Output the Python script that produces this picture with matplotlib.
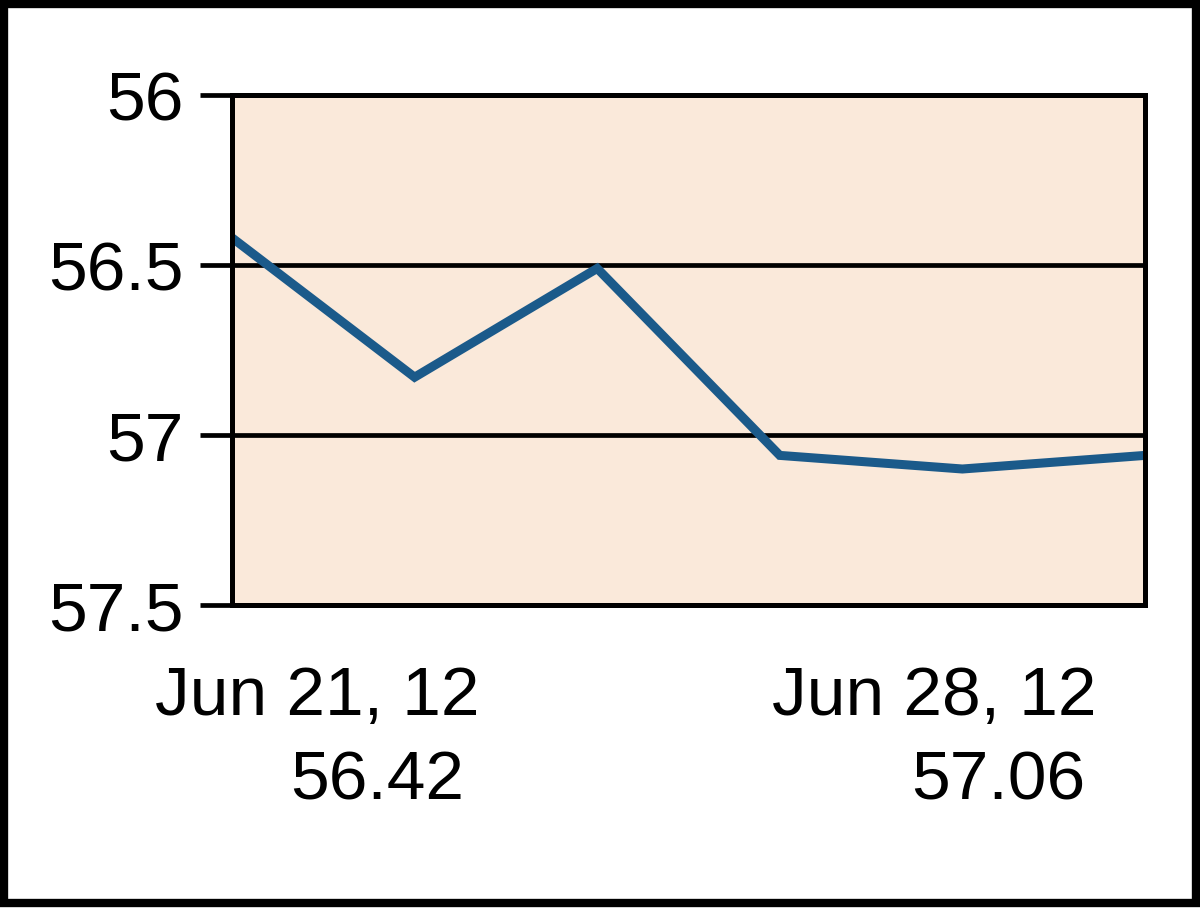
import matplotlib
matplotlib.use("Agg")
import matplotlib.pyplot as plt
from matplotlib.patches import Rectangle

dates = ["Jun 21, 12", "Jun 22, 12", "Jun 25, 12", "Jun 26, 12", "Jun 27, 12", "Jun 28, 12"]
values = [56.42, 56.83, 56.51, 57.06, 57.10, 57.06]
yticks = [56, 56.5, 57, 57.5]
ytick_labels = ["56", "56.5", "57", "57.5"]

W, H = 1200, 908
fig = plt.figure(figsize=(W / 100, H / 100), dpi=100)
fig.patch.set_facecolor("white")

font = "Liberation Sans"
fs = 50

ax = fig.add_axes([232 / W, 1 - 605 / H, (1145 - 232) / W, (605 - 95) / H])
ax.set_facecolor("#FAE9DA")
x = list(range(len(values)))
ax.plot(x, values, color="#1B5A8A", lw=6.5, solid_joinstyle="miter", solid_capstyle="butt", zorder=3)
ax.set_xlim(0, len(values) - 1)
ax.set_ylim(57.5, 56)
ax.set_yticks(yticks)
ax.set_yticklabels(ytick_labels, fontfamily=font, fontsize=fs)
ax.tick_params(axis="y", length=23, width=3.4, pad=12, color="black")
ax.set_xticks([])
for y in yticks[1:-1]:
    ax.axhline(y, color="black", lw=3.4, zorder=2)
for s in ax.spines.values():
    s.set_linewidth(3.6)
    s.set_color("black")
    s.set_zorder(4)

# first / last annotations
fig.text(317 / W, 1 - 697 / H, dates[0], ha="center", va="center", fontfamily=font, fontsize=fs)
fig.text(377 / W, 1 - 781 / H, f"{values[0]:.2f}", ha="center", va="center", fontfamily=font, fontsize=fs)
fig.text(934 / W, 1 - 697 / H, dates[-1], ha="center", va="center", fontfamily=font, fontsize=fs)
fig.text(998 / W, 1 - 781 / H, f"{values[-1]:.2f}", ha="center", va="center", fontfamily=font, fontsize=fs)

# outer border
fig.patches.append(Rectangle((4 / W, 5 / H), (W - 8) / W, (H - 9) / H, transform=fig.transFigure,
                             fill=False, edgecolor="black", lw=6, zorder=10))

fig.savefig("out.png", dpi=100)
